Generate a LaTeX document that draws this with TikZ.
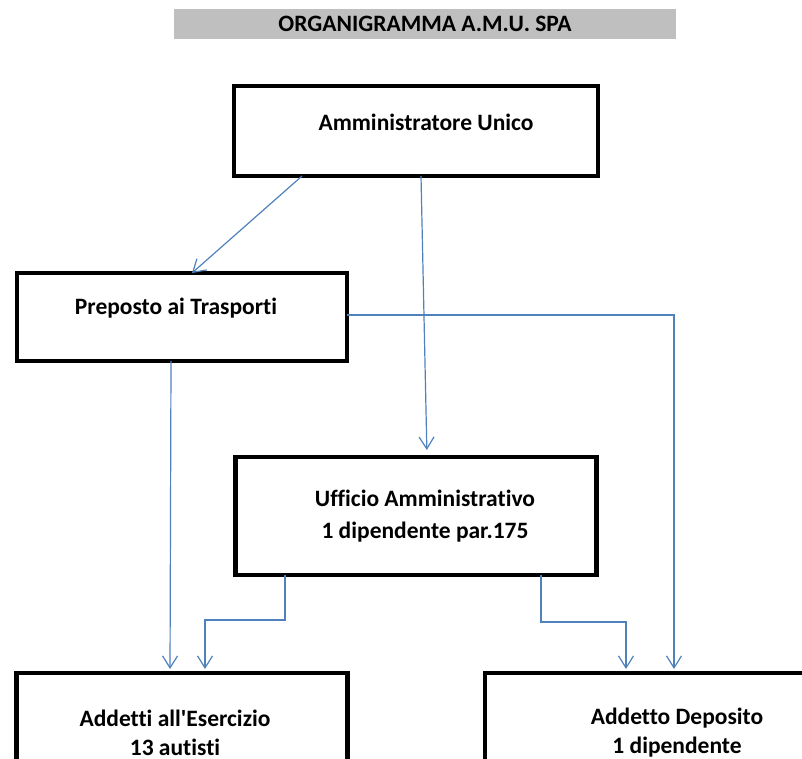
\documentclass[tikz,border=0pt]{standalone}
\usepackage{fontspec}
\setmainfont{Carlito}[Ligatures={NoCommon}]
\usetikzlibrary{arrows.meta}

\begin{document}
\begin{tikzpicture}[x=1pt, y=-1pt,
    box/.style={draw=black, line width=4.5pt, inner sep=0pt, outer sep=0pt},
    lbl/.style={font=\bfseries\fontsize{23.5}{30}\selectfont, align=center, inner sep=0pt},
    conn/.style={draw=myblue, line width=1.2pt, -{Straight Barb[length=12pt, width=15pt, line width=1.2pt]}}]

    \definecolor{myblue}{RGB}{79, 129, 189}
    \definecolor{mygray}{RGB}{191, 191, 191}

    \useasboundingbox (0,0) rectangle (802,758);
    \clip (0,0) rectangle (802,758);

    % title
    \node [fill=mygray, minimum width=502pt, minimum height=30pt, inner sep=0pt] (title) at (425,24) {};
    \node [lbl, font=\bfseries\fontsize{23.5}{28}\selectfont] (titletext) at (425,24) {ORGANIGRAMMA A.M.U. SPA};

    % boxes
    \node [box, minimum width=364pt, minimum height=90pt] (amm) at (416,131) {};
    \node [lbl] (ammtext) at (426,122) {Amministratore Unico};

    \node [box, minimum width=330pt, minimum height=88pt] (prep) at (182,317) {};
    \node [lbl] (preptext) at (176,308) {Preposto ai Trasporti};

    \node [box, minimum width=361pt, minimum height=118pt] (uff) at (416,516) {};
    \node [lbl, font=\bfseries\fontsize{23.5}{32}\selectfont] (ufftext) at (425,516) {Ufficio Amministrativo\\1 dipendente par.175};

    \node [box, minimum width=331pt, minimum height=240pt] (ese) at (182,793) {};
    \node [lbl, font=\bfseries\fontsize{23.5}{29}\selectfont] (esetext) at (175,733) {Addetti all\textquotesingle Esercizio\\13 autisti};

    \node [box, minimum width=420pt, minimum height=240pt] (dep) at (695,793) {};
    \node [lbl, font=\bfseries\fontsize{23.5}{29}\selectfont] (deptext) at (677,733) {Addetto Deposito\\1 dipendente};

    % arrows from the top
    \draw [conn] (amm.south -| 302,0) -- (prep.north -| 192,0);
    \draw [conn, shorten >=7pt] (amm.south -| 421,0) -- (uff.north -| 427,0);

    % arrows from Preposto
    \draw [conn, shorten >=4pt] (prep.south -| 171,0) -- (ese.north -| 170,0);
    \draw [conn, shorten >=4pt] (prep.east |- 0,315) -| (dep.north -| 674,0);

    % arrows from Ufficio
    \draw [conn, shorten >=4pt] (uff.south -| 285,0) -- ++(0,45) -| (ese.north -| 205,0);
    \draw [conn, shorten >=4pt] (uff.south -| 541,0) -- ++(0,47) -| (dep.north -| 626,0);

\end{tikzpicture}
\end{document}
